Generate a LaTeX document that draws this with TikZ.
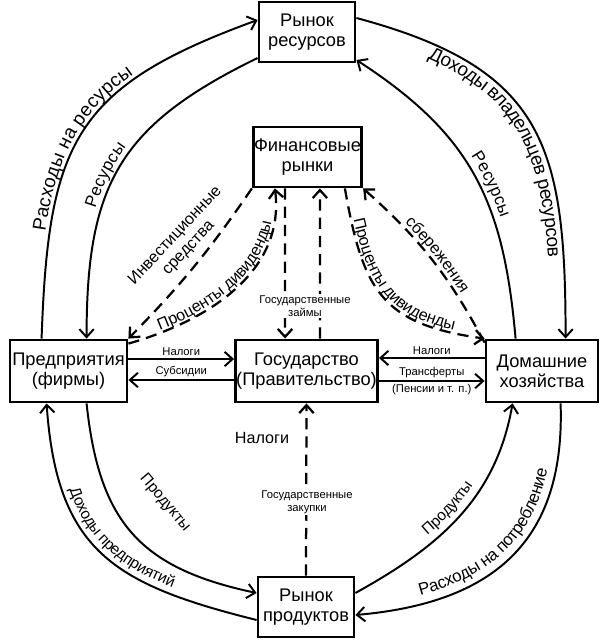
\documentclass[tikz,border=0pt]{standalone}
\usepackage{fontspec}
\setmainfont{Liberation Sans}
\usetikzlibrary{positioning,arrows.meta,calc,decorations.text}

\newcommand\boxfont{\fontsize{13}{14.5}\selectfont}
\newcommand\arcfont{\fontsize{13.5}{15}\selectfont}
\newcommand\arcmid{\fontsize{12}{14}\selectfont}
\newcommand\arcsmall{\fontsize{11}{13}\selectfont}
\newcommand\midfont{\fontsize{11.5}{13}\selectfont}
\newcommand\smallfont{\fontsize{8}{9}\selectfont}

\begin{document}
\begin{tikzpicture}[x=0.025cm,y=0.025cm,
    box/.style={draw,line width=2pt,align=center,inner sep=0.5pt,font=\boxfont},
    flow/.style={line width=1.4pt,-{Straight Barb[length=2mm,width=3.6mm]}},
    money/.style={flow,line width=1.6pt,dash pattern=on 8pt off 5pt},
    note/.style={font=\smallfont,inner sep=1.5pt},
    along/.style n args={4}{postaction={decorate,decoration={text along path,
        text align={#4},raise=#3,text={|#1|#2}}}},
    ralong/.style n args={4}{postaction={decorate,decoration={text along path,
        reverse path,text align={#4},raise=#3,text={|#1|#2}}}}]
    \useasboundingbox (0,0) rectangle (608,-644);

    % Boxes
    \node[box,minimum width=2.4cm,minimum height=1.5cm] (resm) at (307,-32) {Рынок\\ресурсов};
    \node[box,minimum width=2.675cm,minimum height=1.5cm] (fin) at (307.5,-157) {Финансовые\\рынки};
    \node[box,minimum width=2.925cm,minimum height=1.55cm] (firms) at (68.5,-371) {Предприятия\\(фирмы)};
    \node[box,minimum width=3.525cm,minimum height=1.55cm] (gov) at (306.5,-371) {Государство\\(Правительство)};
    \node[box,minimum width=2.8cm,minimum height=1.55cm] (hh) at (542,-371) {Домашние\\хозяйства};
    \node[box,minimum width=2.4cm,minimum height=1.5cm] (prod) at (306,-607) {Рынок\\продуктов};

    % Resource market
    \draw[flow,along={\arcfont}{Расходы на ресурсы}{3pt}{center,right indent=20pt}]
        ($(firms.north west)+(33,0)$) to[out=88,in=200,looseness=1.3] ($(resm.west)+(0,12)$);
    \draw[flow,ralong={\arcmid}{Ресурсы}{4pt}{center,right indent=20pt}]
        ($(resm.west)+(0,-26)$) to[out=206,in=90,looseness=1.2] ($(firms.north west)+(78,0)$);
    \draw[flow,along={\arcfont}{Доходы владельцев ресурсов}{-11pt}{center}]
        ($(resm.east)+(0,14)$) to[out=-15,in=90,looseness=1.3] ($(hh.north west)+(81,0)$);
    \draw[flow,ralong={\arcmid}{Ресурсы}{5pt}{center,left indent=20pt}]
        ($(hh.north west)+(31,0)$) to[out=95,in=-33,looseness=1.1] ($(resm.east)+(0,-28)$);

    % Product market
    \draw[flow] ($(firms.south west)+(78,0)$) to[out=-84,in=168,looseness=1.2] ($(prod.west)+(0,14)$);
    \node[font=\arcsmall,rotate=-50] (prod1) at (165,-503) {Продукты};
    \draw[flow,ralong={\arcsmall}{Доходы предприятий}{5pt}{center}]
        ($(prod.west)+(0,-13)$) to[out=166,in=-86,looseness=1.25] ($(firms.south west)+(38,0)$);
    \draw[flow,along={\arcsmall}{Продукты}{6pt}{center}]
        ($(prod.east)+(0,14)$) to[out=29,in=-100,looseness=1] ($(hh.south west)+(28,0)$);
    \draw[flow,ralong={\arcmid}{Расходы на потребление}{6pt}{center}]
        ($(hh.south west)+(76,0)$) to[out=-88,in=5,looseness=1.2] ($(prod.east)+(0,-8)$);

    % Government
    \draw[flow] ($(firms.east)+(0,12)$) -- ($(gov.west)+(0,12)$)
        node[note,midway,above] (tax1) {Налоги};
    \draw[flow] ($(gov.west)+(0,-9)$) -- ($(firms.east)+(0,-9)$)
        node[note,midway,above] (subs) {Субсидии};
    \draw[flow] ($(hh.west)+(0,13)$) -- ($(gov.east)+(0,13)$)
        node[note,midway,above] (tax2) {Налоги};
    \draw[flow] ($(gov.east)+(0,-10)$) -- ($(hh.west)+(0,-10)$)
        node[note,midway,above] (trans) {Трансферты}
        node[note,midway,below] (pens) {(Пенсии и т. п.)};
    \draw[money] (prod.north) -- (gov.south);
    \node[font=\midfont] (tax3) at (262,-438) {Налоги};
    \node[note,fill=white,align=center] (buy) at (307,-502) {Государственные\\закупки};

    % Financial markets
    \draw[money] (fin.south west) to[bend left=5] (firms.north east);
    \node[font=\midfont,align=center,rotate=47] (inv) at (182,-242) {Инвестиционные\\средства};
    \draw[money,along={\midfont}{Проценты дивиденды}{2pt}{center}]
        ($(firms.north east)+(0,-5)$) to[out=16,in=-83] ($(fin.south west)+(23,0)$);
    \draw[money] ($(fin.south west)+(33,0)$) -- ($(gov.north west)+(51,0)$);
    \draw[money] ($(gov.north west)+(86,0)$) -- ($(fin.south west)+(68,0)$);
    \node[note,fill=white,align=center] (loan) at (305,-306) {Государственные\\займы};
    \draw[money,along={\midfont}{Проценты дивиденды}{2pt}{center}]
        ($(fin.south west)+(93,0)$) to[out=-80,in=172,looseness=1.3] (hh.north west);
    \draw[money,ralong={\midfont}{сбережения}{3pt}{center}]
        ($(hh.north west)+(0,-4)$) to[bend right=10] (fin.south east);
\end{tikzpicture}
\end{document}
